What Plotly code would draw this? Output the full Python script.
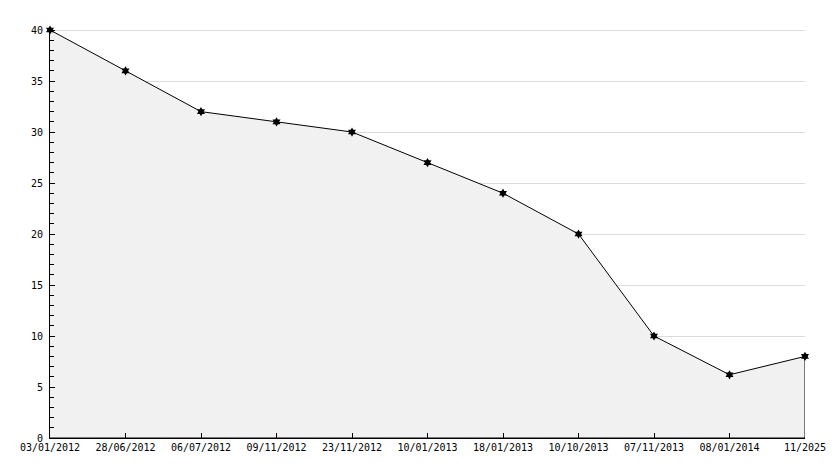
import plotly.graph_objects as go

dates = ["03/01/2012", "28/06/2012", "06/07/2012", "09/11/2012", "23/11/2012",
         "10/01/2013", "18/01/2013", "10/10/2013", "07/11/2013", "08/01/2014", "11/2025"]
values = [40, 36, 32, 31, 30, 27, 24, 20, 10, 6.2, 8]
y_ticks = [0, 5, 10, 15, 20, 25, 30, 35, 40]

idx = list(range(len(dates)))
FONT = "DejaVu Sans Mono"

fig = go.Figure()
# closed polygon (data + baseline) so the right edge is outlined like the original
fig.add_trace(go.Scatter(
    x=idx + [idx[-1], idx[0]],
    y=values + [0, 0],
    mode="lines",
    fill="toself",
    fillcolor="#f1f1f1",
    line=dict(color="black", width=1),
    hoverinfo="skip",
    showlegend=False,
))
fig.add_trace(go.Scatter(
    x=idx, y=values,
    mode="markers",
    marker=dict(symbol="hexagram", size=7, color="black", line=dict(width=0)),
    cliponaxis=False,
    showlegend=False,
))

fig.update_layout(
    width=834, height=468,
    margin=dict(l=50, r=29, t=29, b=30),
    paper_bgcolor="white", plot_bgcolor="white",
    font=dict(family=FONT, size=10, color="black"),
    xaxis=dict(
        range=[0, len(dates) - 1],
        tickmode="array", tickvals=idx, ticktext=dates,
        ticks="inside", ticklen=5, tickcolor="black", tickwidth=1,
        showgrid=False, zeroline=False,
        showline=True, linecolor="black", linewidth=1,
        tickfont=dict(family=FONT, size=10, color="black"),
        automargin=False,
    ),
    yaxis=dict(
        range=[0, 40.1],
        tickmode="array", tickvals=y_ticks,
        ticks="inside", ticklen=5, tickcolor="black", tickwidth=1,
        minor=dict(dtick=1, ticks="inside", ticklen=4, tickcolor="black", showgrid=False),
        showgrid=True, gridcolor="#dcdcdc", gridwidth=1,
        zeroline=False,
        showline=True, linecolor="black", linewidth=1,
        tickfont=dict(family=FONT, size=10, color="black"),
        ticklabelstandoff=4,
        automargin=False,
    ),
)

fig.write_html(
    "out.html",
    config={"displayModeBar": False},
    post_script="document.body.style.margin='0';document.body.style.overflow='hidden';",
)
